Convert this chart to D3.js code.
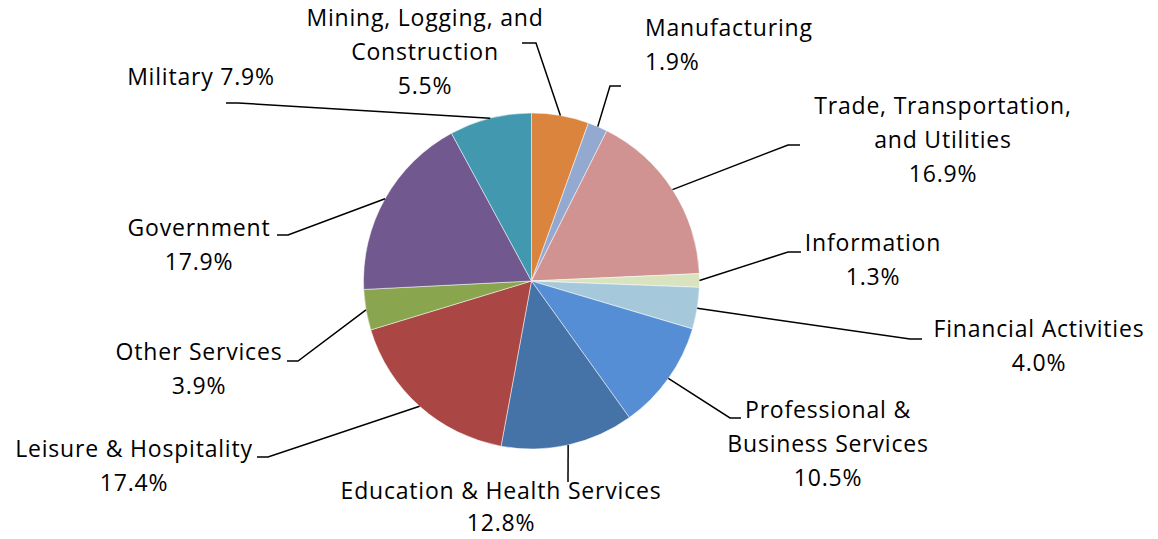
<!DOCTYPE html>
<html><head><meta charset="utf-8">
<script src="https://cdn.jsdelivr.net/npm/d3@7"></script>
<style>body{margin:0;background:#fff}svg{display:block}text{font-family:"Open Sans","Noto Sans",sans-serif;fill:#000}</style>
</head><body><div id="chart"></div>
<script>
const categories = ["Mining, Logging, and Construction","Manufacturing","Trade, Transportation, and Utilities","Information","Financial Activities","Professional & Business Services","Education & Health Services","Leisure & Hospitality","Other Services","Government","Military"];
const values = [5.5,1.9,16.9,1.3,4.0,10.5,12.8,17.4,3.9,17.9,7.9];
const labelLines = [["Mining, Logging, and","Construction","5.5%"],["Manufacturing","1.9%"],["Trade, Transportation,","and Utilities","16.9%"],["Information","1.3%"],["Financial Activities","4.0%"],["Professional &","Business Services","10.5%"],["Education & Health Services","12.8%"],["Leisure & Hospitality","17.4%"],["Other Services","3.9%"],["Government","17.9%"],["Military 7.9%"]];
const colors = ["#DB843D","#93A9CF","#D19392","#D9E4BE","#A5C9DA","#558ED5","#4572A7","#AA4643","#89A54E","#71588F","#4198AF"];

// layout: label anchor (x, first baseline), text anchor, leader elbow and end
const layout = [
  {x:425,y:26,a:"middle",elbow:[536,43],end:[522,43]},
  {x:645,y:36,a:"start",elbow:[610,86],end:[621,86]},
  {x:943,y:114,a:"middle",elbow:[788,145],end:[800,145]},
  {x:873,y:251,a:"middle",elbow:[788,252],end:[801,252]},
  {x:1039,y:337,a:"middle",elbow:[910,339],end:[922,339]},
  {x:828,y:418,a:"middle",elbow:[730,418],end:[741,418]},
  {x:501,y:499,a:"middle",elbow:[568,482],end:[568,482],lh:32},
  {x:134,y:457,a:"middle",elbow:[268,457],end:[257,457]},
  {x:199,y:360,a:"middle",elbow:[298,361],end:[287,361]},
  {x:199,y:236,a:"middle",elbow:[288,235],end:[277,235]},
  {x:201,y:85,a:"middle",elbow:[238,103],end:[226,103]}
];
const W=1158,H=539,cx=531.5,cy=281,R=168,lineH=34,fs=23;
const svg=d3.select("#chart").append("svg").attr("width",W).attr("height",H);
const data=categories.map((c,i)=>({c,v:values[i],i}));
const pie=d3.pie().value(d=>d.v).sort(null);
const arcs=pie(data);
const arc=d3.arc().innerRadius(0).outerRadius(R);
const g=svg.append("g").attr("transform",`translate(${cx},${cy})`);
g.selectAll("path").data(arcs).join("path").attr("d",arc).attr("fill",d=>colors[d.data.i]).attr("stroke","#fff").attr("stroke-width",0.5);
// leaders
arcs.forEach((d,i)=>{
  const m=(d.startAngle+d.endAngle)/2;
  const p=[cx+R*Math.sin(m),cy-R*Math.cos(m)];
  const L=layout[i];
  svg.append("path").attr("d",d3.line()([p,L.elbow,L.end])).attr("fill","none").attr("stroke","#000").attr("stroke-width",1.5);
  const t=svg.append("text").attr("x",L.x).attr("y",L.y).attr("text-anchor",L.a).style("font-size",fs+"px").style("letter-spacing","0.8px");
  labelLines[i].forEach((s,k)=>t.append("tspan").attr("x",L.x).attr("y",L.y+k*(L.lh||lineH)).text(s));
});
</script></body></html>
